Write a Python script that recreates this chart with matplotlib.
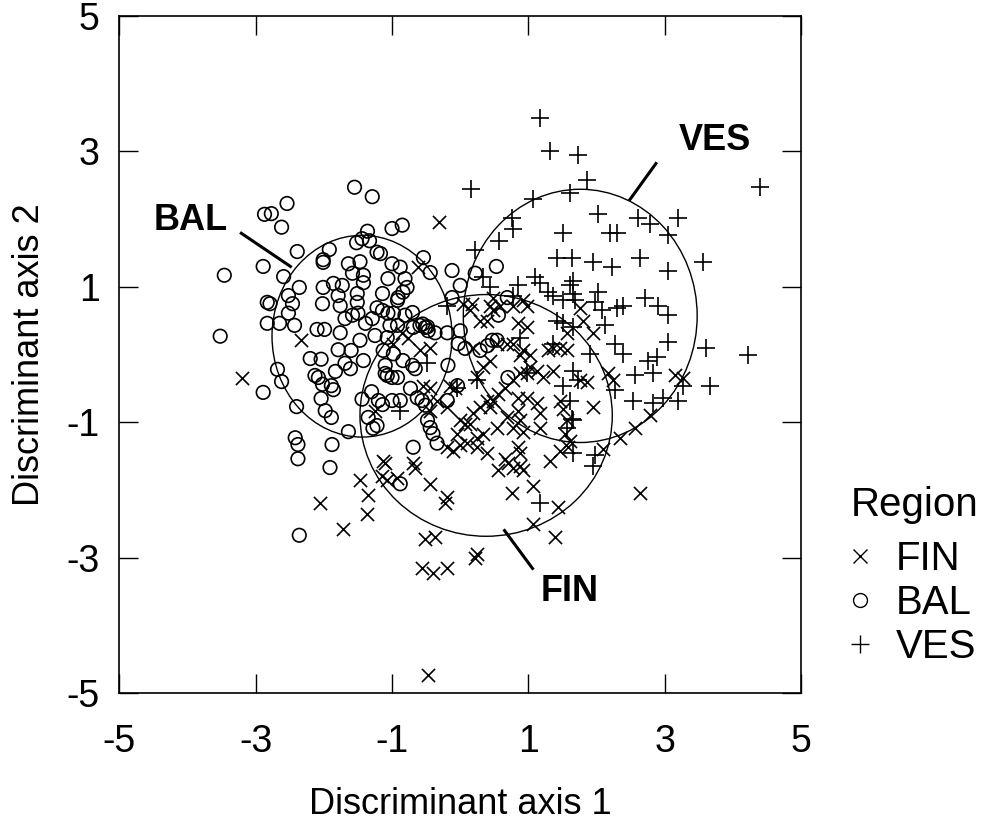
import matplotlib.pyplot as plt
from matplotlib.patches import Ellipse
from matplotlib.lines import Line2D

plt.rcParams['font.family'] = ['Liberation Sans', 'DejaVu Sans']
plt.rcParams['axes.unicode_minus'] = False

# FIN group (x markers)
fin_x = [-3.20, -2.33, -2.05, -1.72, -1.47, -1.35, -1.36, -1.13, -1.14, -1.07,
         -0.31, -0.62, 0.48, 0.44, 0.92, -1.10, -0.92, -0.69, -0.66, -0.10,
         0.00, 0.25, 0.40, 0.66, 0.70, 0.88, 0.88, 0.78, 0.56, 0.92,
         1.32, 1.47, 1.58, -0.44, -0.19, -0.22, 0.76, 1.06, 1.44, 1.07,
         1.39, -0.51, -0.37, 0.25, 0.22, -0.56, -0.40, -0.19, -0.47, 2.10,
         2.35, 2.57, 2.79, 2.64, 1.95, 1.76, 1.80, 1.94, 3.15, 3.26,
         2.16, 2.24, 1.76, 1.86, -0.98, -0.85, -0.76, -0.59, -0.44, -0.54,
         -0.44, -0.34, -0.15, -0.07, -0.19, -0.44, 0.00, 0.07, 0.15, 0.19,
         0.29, 0.40, 0.44, 0.48, 0.56, 0.66, 0.78, 0.88, 0.98, 1.03,
         1.13, 1.22, 0.84, 0.98, 1.13, 1.17, 0.84, 0.88, 0.78, 0.69,
         0.54, 0.34, 0.25, 0.10, -0.04, -0.19, 0.84, 0.92, 1.17, 1.47,
         1.51, 1.57, 1.54, 1.61, 1.36, 1.47, 1.57, 1.03, 0.92, 0.88,
         0.78, 0.69, 0.84, 0.98, 0.54, 0.44, 0.34, 0.25, 0.19, 0.15,
         0.48, 0.59, 0.40, 0.29, 0.04, 0.18, 1.28, 1.36, 1.57, 0.98,
         0.78, -1.25]
fin_y = [-0.35, 0.21, -2.20, -2.58, -1.85, -2.08, -2.35, -1.58, -1.79, -1.86,
         1.96, 1.29, 0.84, 0.72, 0.80, -1.60, -1.82, -1.60, -1.68, -1.42,
         -1.34, -1.37, -1.46, -1.54, -1.60, -1.46, -1.64, -1.68, -1.71, -1.71,
         -1.57, -1.42, -1.37, -1.91, -2.11, -2.20, -2.04, -1.94, -2.26, -2.50,
         -2.70, -2.72, -2.70, -2.94, -3.00, -3.16, -3.22, -3.16, -4.74, -1.39,
         -1.24, -1.09, -0.90, -2.05, -0.77, 0.69, 0.50, 0.32, -0.31, -0.35,
         -0.28, -0.38, -0.38, -0.41, 0.16, 0.31, 0.24, 0.06, 0.10, -0.46,
         -0.50, -0.68, -0.46, -0.50, -0.78, -0.83, -0.97, -1.02, -1.02, -0.87,
         -0.78, -0.68, -0.78, -0.68, -0.58, -0.49, -0.38, -0.28, -0.28, -0.19,
         -0.24, -0.34, -0.64, -0.64, -0.72, -0.87, -0.83, -0.97, -1.08, -0.93,
         -1.08, -1.17, -1.23, -1.31, -1.17, -1.37, -1.37, -1.15, -1.08, -0.68,
         -0.80, -0.97, -1.17, -1.28, 0.10, 0.09, 0.06, -0.01, 0.06, -0.01,
         0.16, 0.16, 0.46, 0.40, 0.16, -0.09, -0.19, -0.34, 0.10, 0.65,
         0.65, 0.72, 0.50, 0.50, 0.75, 0.75, 0.06, -0.24, 0.31, 0.72,
         0.72, -0.83]

# BAL group (open circles)
bal_x = [-1.55, -1.29, -2.54, -2.87, -2.77, -2.62, -1.00, -2.39, -1.92, -2.01,
         -2.01, -1.52, -1.44, -1.36, -1.33, -1.22, -2.89, -3.46, -2.59, -2.36,
         -1.64, -1.47, -1.58, -1.42, -1.42, -1.06, -2.01, -1.86, -1.73, -1.79,
         -1.51, -1.51, -1.14, -2.52, -2.46, -2.83, -2.79, -1.00, -2.02, -3.52,
         -2.83, -2.65, -2.43, -2.52, -2.10, -1.99, -1.76, -1.76, -1.69, -1.58,
         -1.50, -1.39, -1.29, -1.22, -1.14, -1.06, -1.25, -1.07, -2.20, -2.04,
         -1.79, -1.60, -1.47, -1.42, -2.68, -2.62, -2.89, -2.40, -2.13, -2.08,
         -2.02, -1.83, -1.69, -1.61, -1.89, -1.86, -2.04, -1.98, -1.89, -1.64,
         -2.42, -2.38, -1.88, -1.44, -1.30, -1.20, -1.14, -1.35, -1.22, -1.28,
         -1.10, -1.10, -1.00, -1.91, -2.38, -2.36, -0.85, 0.53, 0.22, -0.12,
         -0.44, -0.54, 0.00, -0.12, 0.69, -0.88, -0.81, -0.78, -0.84, -0.91,
         -0.92, -1.17, -0.98, -0.81, -0.70, -1.03, -0.92, -0.69, -0.59, -0.51,
         -0.47, -0.37, -0.19, 0.00, -0.03, 0.07, -1.13, -0.98, -0.84, -0.70,
         -0.66, -1.07, -0.92, -0.73, -0.63, -0.56, -0.51, -0.48, -0.44, -0.40,
         -0.69, -0.34, -0.19, -0.18, -0.04, 0.40, 0.47, 0.54, 0.56, 0.29,
         0.70, -0.88, -1.00, -0.88, -0.55, -0.48]
bal_y = [2.47, 2.33, 2.23, 2.07, 2.08, 1.88, 1.86, 1.52, 1.55, 1.40,
         1.36, 1.65, 1.71, 1.82, 1.68, 1.51, 1.30, 1.17, 1.15, 0.99,
         1.34, 1.37, 1.20, 1.17, 1.06, 1.12, 0.99, 1.05, 1.02, 0.87,
         0.90, 0.77, 0.90, 0.87, 0.75, 0.77, 0.75, 1.34, 0.75, 0.27,
         0.46, 0.46, 0.43, 0.61, 0.37, 0.37, 0.72, 0.32, 0.53, 0.58,
         0.61, 0.46, 0.53, 0.69, 0.65, 0.61, 0.28, 0.25, -0.06, -0.07,
         0.07, 0.06, 0.21, -0.09, -0.22, -0.40, -0.56, -0.77, -0.31, -0.34,
         -0.44, -0.25, -0.13, -0.21, -0.46, -0.52, -0.65, -0.83, -0.93, -1.14,
         -1.23, -1.33, -1.33, -0.66, -0.55, -0.68, -0.74, -0.93, -1.05, -1.09,
         -0.16, -0.28, -0.34, -1.67, -1.54, -2.67, 1.91, 1.30, 1.20, 1.24,
         1.21, 1.43, 1.02, 0.84, 0.84, 1.29, 1.12, 0.99, 0.92, 0.84,
         0.80, 1.49, 0.61, 0.58, 0.62, 0.43, 0.43, 0.40, 0.43, 0.40,
         0.35, 0.32, 0.32, 0.35, 0.16, 0.09, 0.06, 0.01, -0.09, -0.16,
         -0.21, -0.31, -0.34, -0.50, -0.64, -0.68, -0.75, -0.97, -1.08, -1.17,
         -1.37, -1.31, -0.68, -0.16, -0.46, 0.13, 0.21, 0.21, 0.58, 0.06,
         -0.34, -0.68, -0.68, -1.91, 0.45, 0.41]

# VES group (plus markers)
ves_x = [0.16, 1.07, 1.61, 1.17, 1.32, 1.73, 1.86, 0.76, 0.78, 0.57,
         1.50, 0.22, 1.42, 1.64, 2.02, 2.20, 2.30, 2.61, 2.79, 3.20,
         3.05, 4.40, 1.95, 2.23, 2.64, 3.04, 3.56, 0.34, 0.44, 1.10,
         1.17, 1.28, 1.36, 1.50, 1.61, 1.69, 0.85, 0.78, 2.71, 2.90,
         3.04, 2.02, 1.98, 2.08, 2.30, 2.38, 2.13, 1.66, 1.66, 3.05,
         3.61, 4.22, 2.27, 2.39, 1.91, 2.76, 2.89, 2.57, 2.83, 3.67,
         3.27, 2.54, 2.82, 2.98, 3.20, 1.66, 1.66, 1.98, 1.94, 2.27,
         -0.19, 0.88, 1.36, 1.42, 1.51, 1.66, -0.48, 0.25, 0.98, 1.50,
         1.66, 1.61, 1.64, 1.57, 1.72, -0.88, -0.04, 1.17]
ves_y = [2.45, 2.29, 2.38, 3.49, 3.01, 2.94, 2.57, 2.01, 1.86, 1.68,
         1.79, 1.54, 1.42, 1.43, 2.08, 1.79, 1.79, 2.02, 1.93, 2.01,
         1.76, 2.47, 1.36, 1.29, 1.42, 1.24, 1.36, 1.14, 0.99, 1.15,
         1.05, 0.92, 0.86, 0.80, 1.02, 0.80, 1.02, 0.87, 0.84, 0.72,
         0.58, 0.92, 0.77, 0.65, 0.69, 0.72, 0.43, 1.09, 0.90, 0.18,
         0.10, -0.01, 0.16, 0.01, 0.01, -0.09, -0.04, -0.31, -0.28, -0.46,
         -0.46, -0.68, -0.72, -0.64, -0.68, -0.97, -1.46, -1.49, -1.64, -0.53,
         0.72, 0.25, 0.16, 0.50, 0.47, 0.40, -0.13, -0.38, -0.27, -0.46,
         -0.24, -0.68, -0.95, -1.08, -0.38, -0.83, -0.49, -2.19]

# group ellipses: centre, width, height
ell_cx = [0.38, -1.44, 1.76]
ell_cy = [-0.90, 0.27, 0.57]
ell_w = [3.70, 2.64, 3.43]
ell_h = [3.57, 2.98, 3.74]

# group labels with leader lines
lab_text = ['FIN', 'BAL', 'VES']
lab_x = [1.60, -3.96, 3.74]
lab_y = [-3.50, 1.98, 3.16]
lead_x0 = [1.06, -3.21, 2.87]
lead_y0 = [-3.16, 1.79, 2.82]
lead_x1 = [0.65, -2.49, 2.49]
lead_y1 = [-2.60, 1.30, 2.29]

fig = plt.figure(figsize=(9.94, 8.38), dpi=100)
ax = fig.add_axes([0.12, 0.173, 0.686, 0.808])

ax.scatter(fin_x, fin_y, marker='x', s=90, color='black', linewidths=1.2)
ax.scatter(bal_x, bal_y, marker='o', s=95, facecolors='none',
           edgecolors='black', linewidths=1.2)
ax.scatter(ves_x, ves_y, marker='+', s=170, color='black', linewidths=1.2)

for cx, cy, w, h in zip(ell_cx, ell_cy, ell_w, ell_h):
    ax.add_patch(Ellipse((cx, cy), w, h, fill=False, edgecolor='black', lw=1.0))

for t, tx, ty, x0, y0, x1, y1 in zip(lab_text, lab_x, lab_y,
                                      lead_x0, lead_y0, lead_x1, lead_y1):
    ax.plot([x0, x1], [y0, y1], color='black', lw=2.2)
    ax.text(tx, ty, t, fontsize=26, fontweight='bold', ha='center', va='center')

ax.set_xlim(-5, 5)
ax.set_ylim(-5, 5)
ticks = [-5, -3, -1, 1, 3, 5]
ax.set_xticks(ticks)
ax.set_yticks(ticks)
ax.tick_params(direction='in', length=14, width=1.0, top=True, right=True,
               labelsize=27)
ax.tick_params(axis='x', pad=22)
ax.tick_params(axis='y', pad=14)
for sp in ax.spines.values():
    sp.set_linewidth(1.2)

ax.set_xlabel('Discriminant axis 1', fontsize=26, labelpad=20)
ax.set_ylabel('Discriminant axis 2', fontsize=26, labelpad=14)

# legend
fig.text(0.856, 1 - 505 / 838, 'Region', fontsize=29, ha='left', va='center')
handles = [
    Line2D([], [], marker='x', ls='', color='black', ms=10, mew=1.0),
    Line2D([], [], marker='o', ls='', color='black', mfc='none', ms=10, mew=1.0),
    Line2D([], [], marker='+', ls='', color='black', ms=13, mew=1.0),
]
fig.legend(handles, lab_text, loc='upper left',
           bbox_to_anchor=(0.853, 1 - 540 / 838), frameon=False, fontsize=29,
           handlelength=0.6, handletextpad=0.58, labelspacing=0.15,
           borderpad=0, borderaxespad=0)

fig.savefig('out.png', dpi=100)
